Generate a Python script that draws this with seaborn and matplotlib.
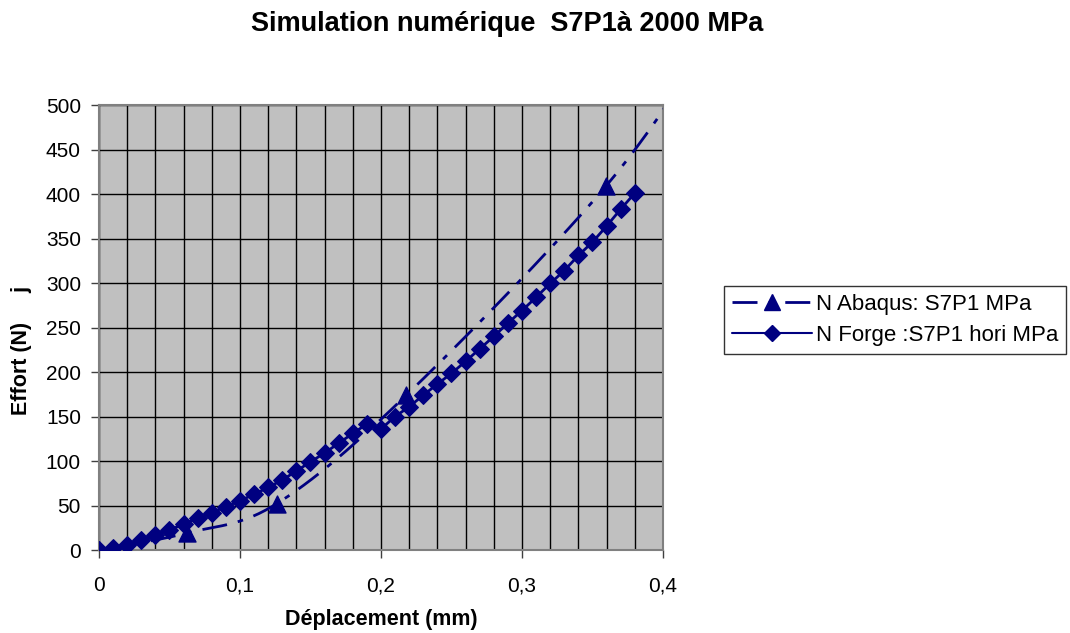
import numpy as np
import pandas as pd
import matplotlib
matplotlib.use("Agg")
import matplotlib.pyplot as plt
from matplotlib.lines import Line2D
import seaborn as sns

# ---- data ----
abaqus_x = [0.0, 0.0622, 0.126, 0.218, 0.3596, 0.44]
abaqus_y = [0.0, 19.0, 52.0, 174.0, 409.0, 590.0]
abaqus_marked = 5  # number of points shown with markers

forge_x = [0.00, 0.01, 0.02, 0.03, 0.04, 0.05, 0.06, 0.07, 0.08, 0.09,
           0.10, 0.11, 0.12, 0.13, 0.14, 0.15, 0.16, 0.17, 0.18, 0.19,
           0.20, 0.21, 0.22, 0.23, 0.24, 0.25, 0.26, 0.27, 0.28, 0.29,
           0.30, 0.31, 0.32, 0.33, 0.34, 0.35, 0.36, 0.37, 0.38]
forge_y = [0, 2, 5.6, 11, 17, 22.5, 29, 35.6, 42, 48.7,
           55.4, 62.6, 70.4, 78.7, 88.8, 99, 109, 120, 131, 141.6,
           136, 150, 161, 174, 186.5, 198.5, 212, 226, 240, 255,
           269, 284, 299.5, 314, 331, 346, 364, 383, 401]

x_ticks = [0.0, 0.1, 0.2, 0.3, 0.4]
x_tick_labels = ["0", "0,1", "0,2", "0,3", "0,4"]
y_ticks = list(range(0, 501, 50))

title = "Simulation numérique  S7P1à 2000 MPa"
xlabel = "Déplacement (mm)"
ylabel = "Effort (N)     j"
label_abaqus = "N Abaqus: S7P1 MPa"
label_forge = "N Forge :S7P1 hori MPa"

NAVY = "#000080"

sns.set_theme(style="white")
plt.rcParams["font.family"] = ["Liberation Sans", "DejaVu Sans"]
plt.rcParams["text.color"] = "black"
plt.rcParams["axes.labelcolor"] = "black"
plt.rcParams["xtick.color"] = "black"
plt.rcParams["ytick.color"] = "black"


def smooth(xs, ys, n=30):
    """Excel-like smoothed line (Catmull-Rom through the given points)."""
    P = np.column_stack([xs, ys]).astype(float)
    P = np.vstack([P[0], P, P[-1]])
    out = []
    t = np.linspace(0, 1, n)[:, None]
    for i in range(1, len(P) - 2):
        p0, p1, p2, p3 = P[i - 1], P[i], P[i + 1], P[i + 2]
        seg = 0.5 * ((2 * p1) + (-p0 + p2) * t + (2 * p0 - 5 * p1 + 4 * p2 - p3) * t ** 2
                     + (-p0 + 3 * p1 - 3 * p2 + p3) * t ** 3)
        out.append(seg)
    return np.vstack(out)


fig = plt.figure(figsize=(10.7, 6.33), dpi=100)
ax = fig.add_axes([0.0925, 0.1311, 0.5271, 0.7029])
ax.set_facecolor("#C0C0C0")

# Abaqus smoothed dash-dot line
curve = smooth(abaqus_x, abaqus_y)
df_curve = pd.DataFrame({"x": curve[:, 0], "y": curve[:, 1]})
sns.lineplot(data=df_curve, x="x", y="y", ax=ax, color=NAVY, lw=2, sort=False,
             estimator=None, zorder=3)
ax.lines[-1].set_dashes([9, 4, 2, 4])
sns.scatterplot(x=abaqus_x[:abaqus_marked], y=abaqus_y[:abaqus_marked], ax=ax,
                marker="^", s=150, color=NAVY, edgecolor=NAVY, zorder=4)

# Forge line with diamonds
sns.lineplot(x=forge_x, y=forge_y, ax=ax, color=NAVY, lw=2, marker="D",
             markersize=9, markeredgecolor=NAVY, sort=False, estimator=None, zorder=5)

ax.set_xlim(0, 0.4)
ax.set_ylim(0, 500)
ax.set_xticks(x_ticks)
ax.set_xticklabels(x_tick_labels)
ax.set_xticks(np.arange(0, 0.4001, 0.02), minor=True)
ax.set_yticks(y_ticks)
ax.grid(which="both", color="black", lw=1, zorder=0)
ax.set_axisbelow(True)
ax.tick_params(which="minor", length=0)
ax.tick_params(axis="x", which="major", direction="out", length=6, width=1, color="#404040",
               labelsize=15, pad=13, bottom=True)
ax.tick_params(axis="y", which="major", direction="out", length=6, width=1, color="#404040",
               labelsize=15, pad=7, left=True)
for s in ax.spines.values():
    s.set_color("#808080")
    s.set_linewidth(1.5)

ax.set_xlabel(xlabel, fontsize=15.5, fontweight="bold")
ax.xaxis.set_label_coords(0.5, -0.133)
ax.set_ylabel(ylabel, fontsize=15.5, fontweight="bold")
ax.yaxis.set_label_coords(-0.119, 0.449)
fig.text(0.474, 1 - 31 / 633, title, ha="center", va="baseline",
         fontsize=19.5, fontweight="bold")

handles = [
    Line2D([], [], color=NAVY, lw=2, dashes=[9, 4, 2, 4], marker="^", markersize=11),
    Line2D([], [], color=NAVY, lw=1.5, marker="D", markersize=8),
]
leg = fig.legend(handles, [label_abaqus, label_forge], loc="upper left",
                 bbox_to_anchor=(724 / 1070, 1 - 286 / 633), fontsize=16, frameon=True,
                 fancybox=False, edgecolor="black", handlelength=3.6,
                 handletextpad=0.2, borderpad=0.35, labelspacing=0.45,
                 borderaxespad=0)
leg.get_frame().set_linewidth(1)

fig.savefig("out.png", dpi=100)
